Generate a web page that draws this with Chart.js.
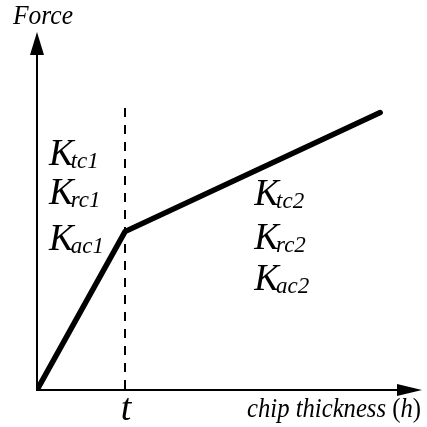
<!DOCTYPE html>
<html>
<head>
<meta charset="utf-8">
<script src="https://cdn.jsdelivr.net/npm/chart.js@4.4.1/dist/chart.umd.min.js"></script>
<style>
  html, body { margin: 0; padding: 0; background: #fff; }
  canvas { display: block; }
</style>
</head>
<body>
<canvas id="forceChart" width="427" height="427"></canvas>
<script>
// chip thickness in units of t, force in arbitrary units
const hValues = [0, 1, 3.9];
const forceValues = [0, 1.77, 3.1];
const tValue = 1;
const dashTop = 3.15;
const xMax = 4.375;
const yMax = 4;
const tickLabels = ['t'];
const leftCoefs = ['tc1', 'rc1', 'ac1'];
const rightCoefs = ['tc2', 'rc2', 'ac2'];
const yTitle = 'Force';
const xTitle = 'chip thickness ';

const serif = '"Liberation Serif", "Times New Roman", serif';

// axes with arrow heads + text, drawn from the scales
const schematic = {
    id: 'schematic',
    beforeDatasetsDraw(chart) {
        const c = chart.ctx;
        const xs = chart.scales.x, ys = chart.scales.y;
        const x0 = xs.getPixelForValue(0), y0 = ys.getPixelForValue(0);
        const xe = xs.getPixelForValue(xMax), ye = ys.getPixelForValue(yMax);
        c.save();
        c.strokeStyle = '#000';
        c.fillStyle = '#000';
        c.lineWidth = 2;
        c.beginPath();
        c.moveTo(x0, ye + 22);
        c.lineTo(x0, y0);
        c.lineTo(xe - 24, y0);
        c.stroke();
        // y arrow
        c.beginPath();
        c.moveTo(x0, ye);
        c.lineTo(x0 - 7, ye + 23);
        c.lineTo(x0 + 7, ye + 23);
        c.closePath();
        c.fill();
        // x arrow
        c.beginPath();
        c.moveTo(xe, y0);
        c.lineTo(xe - 25, y0 - 6);
        c.lineTo(xe - 25, y0 + 6);
        c.closePath();
        c.fill();
        c.restore();
    },
    afterDraw(chart) {
        const c = chart.ctx;
        const xs = chart.scales.x, ys = chart.scales.y;
        const x0 = xs.getPixelForValue(0);
        const xt = xs.getPixelForValue(tValue);
        c.save();
        c.fillStyle = '#000';
        c.textBaseline = 'alphabetic';
        c.textAlign = 'left';

        c.font = 'italic 28px ' + serif;
        c.fillText(yTitle, 13, 24, 60);

        // x title, italic with upright parentheses, squeezed to fit
        const parts = [[xTitle, 'italic'], ['(', 'normal'], ['h', 'italic'], [')', 'normal']];
        let total = 0;
        parts.forEach(p => { c.font = p[1] + ' 28px ' + serif; total += c.measureText(p[0]).width; });
        const sx = 174 / total;
        c.save();
        c.translate(247, 417);
        c.scale(sx, 1);
        let cx = 0;
        parts.forEach(p => {
            c.font = p[1] + ' 28px ' + serif;
            c.fillText(p[0], cx, 0);
            cx += c.measureText(p[0]).width;
        });
        c.restore();

        c.textAlign = 'center';
        c.font = 'italic 38px ' + serif;
        c.fillText(tickLabels[0], xt + 1, 420);

        const drawK = (x, y, sub) => {
            c.textAlign = 'left';
            c.font = 'italic 37px ' + serif;
            c.fillText('K', x, y);
            const w = c.measureText('K').width;
            c.font = 'italic 23px ' + serif;
            c.fillText(sub, x + w - 3, y + 3);
        };
        const lx = x0 + 12;
        [165, 204, 250].forEach((y, i) => drawK(lx, y, leftCoefs[i]));
        const rx = xs.getPixelForValue(2.47);
        [205, 249, 290].forEach((y, i) => drawK(rx, y, rightCoefs[i]));
        c.restore();
    }
};

const forceChart = new Chart('forceChart', {
    type: 'scatter',
    data: {
        datasets: [{
            data: hValues.map((h, i) => ({ x: h, y: forceValues[i] })),
            showLine: true,
            borderColor: '#000',
            borderWidth: 5.5,
            borderCapStyle: 'round',
            borderJoinStyle: 'miter',
            pointRadius: 0,
            tension: 0
        }, {
            data: [{ x: tValue, y: dashTop }, { x: tValue, y: 0 }],
            showLine: true,
            borderColor: '#000',
            borderWidth: 2,
            borderDash: [9, 8],
            pointRadius: 0
        }]
    },
    options: {
        responsive: false,
        animation: false,
        layout: {
            padding: { left: 37, right: 5, top: 32, bottom: 37 }
        },
        scales: {
            x: { type: 'linear', min: 0, max: xMax, display: false },
            y: { type: 'linear', min: 0, max: yMax, display: false }
        },
        plugins: {
            legend: { display: false },
            tooltip: { enabled: false }
        }
    },
    plugins: [schematic]
});
</script>
</body>
</html>
